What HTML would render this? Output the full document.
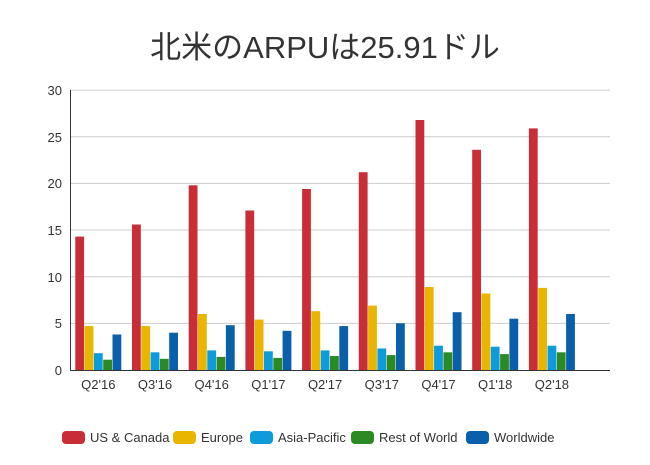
<!DOCTYPE html><html><head><meta charset="utf-8"><style>body{margin:0;background:#fff}</style></head><body>
<svg width="650" height="460" xmlns="http://www.w3.org/2000/svg" font-family="Liberation Sans, Noto Sans CJK JP, sans-serif">
<text x="325" y="58" text-anchor="middle" font-size="31" fill="#333">北米のARPUは25.91ドル</text>
<g stroke="#ccc">
<line x1="70" x2="610" y1="323.35" y2="323.35"/><line x1="70" x2="610" y1="276.7" y2="276.7"/><line x1="70" x2="610" y1="230.05" y2="230.05"/><line x1="70" x2="610" y1="183.4" y2="183.4"/><line x1="70" x2="610" y1="136.75" y2="136.75"/><line x1="70" x2="610" y1="90.1" y2="90.1"/>
</g>
<g font-size="13" fill="#333" text-anchor="end">
<text x="62" y="375">0</text><text x="62" y="328">5</text><text x="62" y="282">10</text><text x="62" y="235">15</text><text x="62" y="188">20</text><text x="62" y="142">25</text><text x="62" y="95">30</text>
</g>
<g>
<rect x="75.3" y="236.6" width="8.8" height="133.4" fill="#c92d35"/><rect x="84.6" y="326.1" width="8.8" height="43.9" fill="#e8b500"/><rect x="93.9" y="353.2" width="8.8" height="16.8" fill="#0d9bdc"/><rect x="103.2" y="359.7" width="8.8" height="10.3" fill="#2c8a24"/><rect x="112.5" y="334.5" width="8.8" height="35.5" fill="#0a5fab"/>
<rect x="132" y="224.5" width="8.8" height="145.5" fill="#c92d35"/><rect x="141.3" y="326.1" width="8.8" height="43.9" fill="#e8b500"/><rect x="150.6" y="352.3" width="8.8" height="17.7" fill="#0d9bdc"/><rect x="159.9" y="358.8" width="8.8" height="11.2" fill="#2c8a24"/><rect x="169.2" y="332.7" width="8.8" height="37.3" fill="#0a5fab"/>
<rect x="188.7" y="185.3" width="8.8" height="184.7" fill="#c92d35"/><rect x="198" y="314" width="8.8" height="56" fill="#e8b500"/><rect x="207.3" y="350.4" width="8.8" height="19.6" fill="#0d9bdc"/><rect x="216.6" y="356.9" width="8.8" height="13.1" fill="#2c8a24"/><rect x="225.9" y="325.2" width="8.8" height="44.8" fill="#0a5fab"/>
<rect x="245.4" y="210.5" width="8.8" height="159.5" fill="#c92d35"/><rect x="254.7" y="319.6" width="8.8" height="50.4" fill="#e8b500"/><rect x="264" y="351.3" width="8.8" height="18.7" fill="#0d9bdc"/><rect x="273.3" y="357.9" width="8.8" height="12.1" fill="#2c8a24"/><rect x="282.6" y="330.8" width="8.8" height="39.2" fill="#0a5fab"/>
<rect x="302.1" y="189" width="8.8" height="181" fill="#c92d35"/><rect x="311.4" y="311.2" width="8.8" height="58.8" fill="#e8b500"/><rect x="320.7" y="350.4" width="8.8" height="19.6" fill="#0d9bdc"/><rect x="330" y="356" width="8.8" height="14" fill="#2c8a24"/><rect x="339.3" y="326.1" width="8.8" height="43.9" fill="#0a5fab"/>
<rect x="358.8" y="172.2" width="8.8" height="197.8" fill="#c92d35"/><rect x="368.1" y="305.6" width="8.8" height="64.4" fill="#e8b500"/><rect x="377.4" y="348.5" width="8.8" height="21.5" fill="#0d9bdc"/><rect x="386.7" y="355.1" width="8.8" height="14.9" fill="#2c8a24"/><rect x="396" y="323.3" width="8.8" height="46.7" fill="#0a5fab"/>
<rect x="415.5" y="120" width="8.8" height="250" fill="#c92d35"/><rect x="424.8" y="287" width="8.8" height="83" fill="#e8b500"/><rect x="434.1" y="345.7" width="8.8" height="24.3" fill="#0d9bdc"/><rect x="443.4" y="352.3" width="8.8" height="17.7" fill="#2c8a24"/><rect x="452.7" y="312.2" width="8.8" height="57.8" fill="#0a5fab"/>
<rect x="472.2" y="149.8" width="8.8" height="220.2" fill="#c92d35"/><rect x="481.5" y="293.5" width="8.8" height="76.5" fill="#e8b500"/><rect x="490.8" y="346.7" width="8.8" height="23.3" fill="#0d9bdc"/><rect x="500.1" y="354.1" width="8.8" height="15.9" fill="#2c8a24"/><rect x="509.4" y="318.7" width="8.8" height="51.3" fill="#0a5fab"/>
<rect x="528.9" y="128.4" width="8.8" height="241.6" fill="#c92d35"/><rect x="538.2" y="287.9" width="8.8" height="82.1" fill="#e8b500"/><rect x="547.5" y="345.7" width="8.8" height="24.3" fill="#0d9bdc"/><rect x="556.8" y="352.3" width="8.8" height="17.7" fill="#2c8a24"/><rect x="566.1" y="314" width="8.8" height="56" fill="#0a5fab"/>
</g>
<line x1="70.5" x2="70.5" y1="90" y2="370" stroke="#333"/><line x1="70" x2="610" y1="370.5" y2="370.5" stroke="#333"/>
<g font-size="13" fill="#333" text-anchor="middle">
<text x="98.3" y="389">Q2'16</text><text x="155" y="389">Q3'16</text><text x="211.7" y="389">Q4'16</text><text x="268.4" y="389">Q1'17</text><text x="325.1" y="389">Q2'17</text><text x="381.8" y="389">Q3'17</text><text x="438.5" y="389">Q4'17</text><text x="495.2" y="389">Q1'18</text><text x="551.9" y="389">Q2'18</text>
</g>
<g font-size="13" fill="#333">
<rect x="62" y="431" width="23" height="13" rx="4" fill="#c92d35"/><text x="90" y="442">US &amp; Canada</text>
<rect x="173" y="431" width="23" height="13" rx="4" fill="#e8b500"/><text x="201" y="442">Europe</text>
<rect x="250" y="431" width="23" height="13" rx="4" fill="#0d9bdc"/><text x="278" y="442">Asia-Pacific</text>
<rect x="351" y="431" width="23" height="13" rx="4" fill="#2c8a24"/><text x="379" y="442">Rest of World</text>
<rect x="466" y="431" width="23" height="13" rx="4" fill="#0a5fab"/><text x="494" y="442">Worldwide</text>
</g>
</svg></body></html>
